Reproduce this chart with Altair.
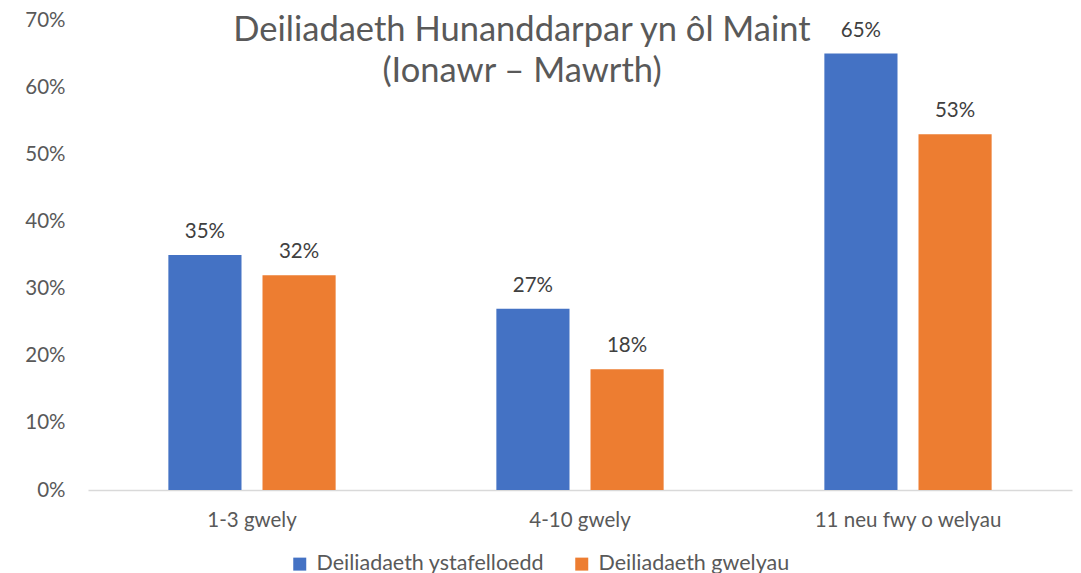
import altair as alt
import pandas as pd

categories = ["1-3 gwely", "4-10 gwely", "11 neu fwy o welyau"]
series = ["Deiliadaeth ystafelloedd", "Deiliadaeth gwelyau"]
rooms = [0.35, 0.27, 0.65]
beds = [0.32, 0.18, 0.53]
colors = ["#4472C4", "#ED7D31"]
y_ticks = [0, 0.1, 0.2, 0.3, 0.4, 0.5, 0.6, 0.7]
title_lines = ["Deiliadaeth Hunanddarpar yn ôl Maint", "(Ionawr – Mawrth)"]

rows = []
for i, c in enumerate(categories):
    rows.append({"cat": c, "series": series[0], "value": rooms[i]})
    rows.append({"cat": c, "series": series[1], "value": beds[i]})
df = pd.DataFrame(rows)

FONT = "Lato"
TXT = "#595959"

base = alt.Chart(df).encode(
    x=alt.X(
        "cat:N",
        sort=categories,
        scale=alt.Scale(paddingInner=0.49, paddingOuter=0.245),
        axis=alt.Axis(
            title=None, labelAngle=0, ticks=False, domainColor="#D9D9D9",
            domainWidth=1.5, labelPadding=20, labelFontSize=20.5,
            labelColor=TXT, labelFont=FONT, labelLimit=500,
        ),
    ),
    xOffset=alt.XOffset(
        "series:N", sort=series,
        scale=alt.Scale(paddingInner=0.223, paddingOuter=0),
    ),
    y=alt.Y(
        "value:Q",
        scale=alt.Scale(domain=[0, 0.7], nice=False),
        axis=alt.Axis(
            title=None, format=".0%", values=y_ticks, grid=False,
            domain=False, ticks=False, labelPadding=23, labelFontSize=20.5,
            labelColor=TXT, labelFont=FONT,
        ),
    ),
)

bars = base.mark_bar().encode(
    color=alt.Color(
        "series:N",
        sort=series,
        scale=alt.Scale(domain=series, range=colors),
        legend=alt.Legend(
            title=None, orient="none", legendX=201, legendY=533,
            direction="horizontal", symbolType="square", symbolSize=169,
            symbolStrokeWidth=0, symbolOpacity=1, labelFontSize=21.5,
            labelFont=FONT, labelColor=TXT, labelOffset=6,
            columnPadding=26, padding=0, labelLimit=400,
        ),
    )
)

labels = base.mark_text(
    baseline="alphabetic", dy=-17, fontSize=20.5, color="#404040", font=FONT
).encode(text=alt.Text("value:Q", format=".0%"))

chart = alt.layer(bars, labels).properties(
    width=984,
    height=470,
    padding={"left": 80, "top": 12, "right": 1, "bottom": 95},
    autosize=alt.AutoSizeParams(type="none"),
    title=alt.TitleParams(
        text=title_lines, anchor="middle", orient="top", offset=-79,
        dx=-58, fontSize=34.5, font=FONT, fontWeight="normal", color=TXT,
        lineHeight=41, baseline="top",
    ),
).configure_view(stroke=None)

chart.save("out.html", embed_options={"renderer": "svg", "actions": False})
